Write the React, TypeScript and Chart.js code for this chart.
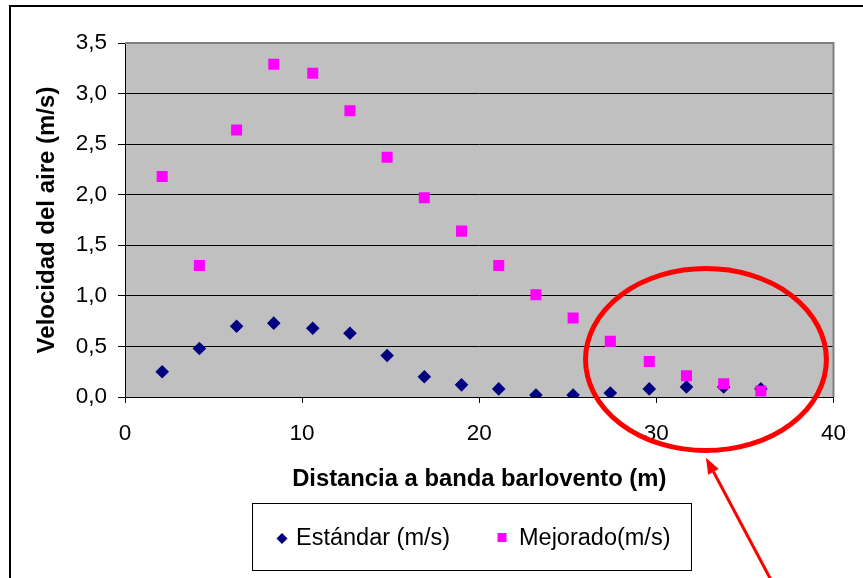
import { useEffect, useRef } from 'react';
import { Chart, registerables } from 'chart.js';

Chart.register(...registerables);

// Distance from the windward band (m)
const distances = [2.1, 4.2, 6.3, 8.4, 10.6, 12.7, 14.8, 16.9, 19.0, 21.1, 23.2, 25.3, 27.4, 29.6, 31.7, 33.8, 35.9];
// Air speed, standard layout (m/s)
const estandar = [0.25, 0.48, 0.70, 0.73, 0.68, 0.63, 0.41, 0.20, 0.12, 0.08, 0.02, 0.02, 0.04, 0.08, 0.10, 0.10, 0.08];
// Air speed, improved layout (m/s)
const mejorado = [2.18, 1.30, 2.64, 3.29, 3.20, 2.83, 2.37, 1.97, 1.64, 1.30, 1.01, 0.78, 0.55, 0.35, 0.21, 0.13, 0.06];

const seriesLabels = ['Estándar (m/s)', 'Mejorado(m/s)'];
const xTitle = 'Distancia a banda barlovento (m)';
const yTitle = 'Velocidad del aire (m/s)';

// Highlight ellipse and pointer arrow, in data units
const highlight = { cx: 32.8, cy: 0.37, rx: 6.8, ry: 0.9 };
const arrowTip = { x: 32.8, y: -0.6 };
const arrowTail = { x: 36.9, y: -1.95 };

const FONT = '"Liberation Sans", Arial, sans-serif';

const decor = {
  id: 'decor',
  beforeDraw(chart: any) {
    const { ctx, chartArea: a } = chart;
    ctx.save();
    ctx.fillStyle = '#ffffff';
    ctx.fillRect(0, 0, chart.width, chart.height);
    ctx.fillStyle = '#C0C0C0';
    ctx.fillRect(a.left, a.top, a.right - a.left, a.bottom - a.top);
    // outer chart frame
    ctx.strokeStyle = '#000000';
    ctx.lineWidth = 2;
    ctx.beginPath();
    ctx.moveTo(10, chart.height + 5);
    ctx.lineTo(10, 6);
    ctx.lineTo(chart.width + 5, 6);
    ctx.stroke();
    ctx.restore();
  },
  beforeDatasetsDraw(chart: any) {
    const { ctx, chartArea: a } = chart;
    ctx.save();
    ctx.strokeStyle = '#808080';
    ctx.lineWidth = 2;
    ctx.beginPath();
    ctx.moveTo(a.left, a.top);
    ctx.lineTo(a.right, a.top);
    ctx.lineTo(a.right, a.bottom);
    ctx.stroke();
    ctx.restore();
  },
  afterDraw(chart: any) {
    const { ctx } = chart;
    const xs = chart.scales.x;
    const ys = chart.scales.y;
    ctx.save();

    // red ellipse
    const cx = xs.getPixelForValue(highlight.cx);
    const cy = ys.getPixelForValue(highlight.cy);
    const rx = xs.getPixelForValue(highlight.cx + highlight.rx) - cx;
    const ry = cy - ys.getPixelForValue(highlight.cy + highlight.ry);
    ctx.strokeStyle = '#FF0000';
    ctx.lineWidth = 5;
    ctx.beginPath();
    ctx.ellipse(cx, cy, rx, ry, 0, 0, Math.PI * 2);
    ctx.stroke();

    // arrow
    const tx = xs.getPixelForValue(arrowTip.x);
    const ty = ys.getPixelForValue(arrowTip.y);
    const sx = xs.getPixelForValue(arrowTail.x);
    const sy = ys.getPixelForValue(arrowTail.y);
    const ang = Math.atan2(ty - sy, tx - sx);
    const headLen = 16;
    const headW = 6;
    const bx = tx - headLen * Math.cos(ang);
    const by = ty - headLen * Math.sin(ang);
    ctx.lineWidth = 3;
    ctx.beginPath();
    ctx.moveTo(sx, sy);
    ctx.lineTo(bx, by);
    ctx.stroke();
    ctx.fillStyle = '#FF0000';
    ctx.beginPath();
    ctx.moveTo(tx, ty);
    ctx.lineTo(bx + headW * Math.sin(ang), by - headW * Math.cos(ang));
    ctx.lineTo(bx - headW * Math.sin(ang), by + headW * Math.cos(ang));
    ctx.closePath();
    ctx.fill();

    // legend box
    const lx = 252, ly = 503, lw = 439, lh = 67;
    ctx.fillStyle = '#ffffff';
    ctx.fillRect(lx, ly, lw, lh);
    ctx.strokeStyle = '#000000';
    ctx.lineWidth = 1;
    ctx.strokeRect(lx + 0.5, ly + 0.5, lw, lh);
    const midY = ly + lh / 2 + 2;
    const itemX = [282, 502];
    ctx.font = `23.5px ${FONT}`;
    ctx.textBaseline = 'middle';
    ctx.textAlign = 'left';
    chart.data.datasets.forEach((ds: any, i: number) => {
      const mx = itemX[i];
      ctx.fillStyle = ds.backgroundColor;
      ctx.beginPath();
      if (ds.pointStyle === 'rectRot') {
        ctx.moveTo(mx, midY - 5.5);
        ctx.lineTo(mx + 5.5, midY);
        ctx.lineTo(mx, midY + 5.5);
        ctx.lineTo(mx - 5.5, midY);
        ctx.closePath();
      } else {
        ctx.rect(mx - 4.5, midY - 5.5, 9, 9);
      }
      ctx.fill();
      ctx.fillStyle = '#000000';
      ctx.fillText(ds.label, mx + (i === 0 ? 14 : 17), midY);
    });
    ctx.restore();
  },
};

export default function App() {
  const canvasRef = useRef<HTMLCanvasElement | null>(null);

  useEffect(() => {
    if (!canvasRef.current) return;
    const chart = new Chart(canvasRef.current, {
      type: 'scatter',
      data: {
        datasets: [
          {
            label: seriesLabels[0],
            data: distances.map((x, i) => ({ x, y: estandar[i] })),
            pointStyle: 'rectRot',
            pointRadius: 6.8,
            pointHoverRadius: 6.8,
            backgroundColor: '#000080',
            borderColor: '#000080',
            borderWidth: 0,
            order: 1,
          },
          {
            label: seriesLabels[1],
            data: distances.map((x, i) => ({ x, y: mejorado[i] })),
            pointStyle: 'rect',
            pointRadius: 7.8,
            pointHoverRadius: 7.8,
            backgroundColor: '#FF00FF',
            borderColor: '#FF00FF',
            borderWidth: 0,
            order: 0,
          },
        ],
      },
      options: {
        responsive: false,
        animation: false,
        layout: { padding: { top: 43, right: 23, left: 0, bottom: 81 } },
        plugins: { legend: { display: false }, tooltip: { enabled: false } },
        scales: {
          x: {
            type: 'linear',
            min: 0,
            max: 40,
            afterFit: (s: any) => { s.height = 100; },
            ticks: {
              stepSize: 10,
              color: '#000000',
              font: { family: FONT, size: 22.5 },
              padding: 17,
              maxRotation: 0,
            },
            grid: { drawOnChartArea: false, drawTicks: true, tickLength: 6, tickColor: '#000000' },
            border: { color: '#000000', width: 1 },
            title: {
              display: true,
              text: xTitle,
              color: '#000000',
              font: { family: FONT, size: 23.8, weight: 'bold' },
              padding: { top: 0, bottom: 3 },
            },
          },
          y: {
            type: 'linear',
            min: 0,
            max: 3.5,
            afterFit: (s: any) => { s.width = 125; },
            ticks: {
              stepSize: 0.5,
              color: '#000000',
              font: { family: FONT, size: 22.5 },
              padding: 11,
              callback: (v: any) => Number(v).toFixed(1).replace('.', ','),
            },
            grid: {
              color: (c: any) => (c.tick && c.tick.value === 3.5 ? 'rgba(0,0,0,0)' : '#000000'),
              drawTicks: true,
              tickLength: 7,
              tickColor: '#000000',
            },
            border: { color: '#000000', width: 1 },
            title: {
              display: true,
              text: yTitle,
              color: '#000000',
              font: { family: FONT, size: 24, weight: 'bold' },
              padding: { top: 33, bottom: 0 },
            },
          },
        },
      },
      plugins: [decor],
    });
    return () => chart.destroy();
  }, []);

  return (
    <div style={{ position: 'absolute', left: 0, top: 0, width: 863, height: 578 }}>
      <canvas ref={canvasRef} width={863} height={578} />
    </div>
  );
}
